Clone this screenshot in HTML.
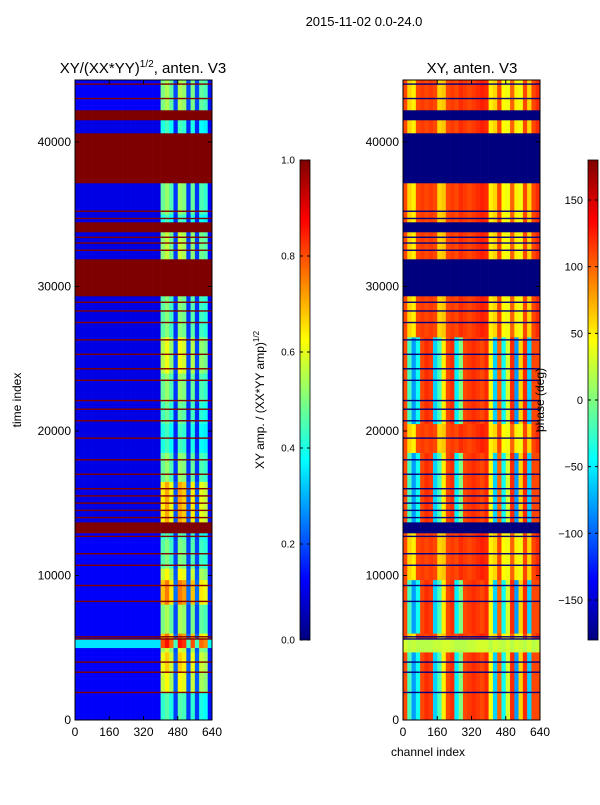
<!DOCTYPE html>
<html><head><meta charset="utf-8">
<style>
html,body{margin:0;padding:0;background:#fff;}
body{width:600px;height:800px;overflow:hidden;font-family:"Liberation Sans","DejaVu Sans",sans-serif;}
svg text{font-family:"Liberation Sans","DejaVu Sans",sans-serif;fill:#000;}
</style></head>
<body>
<svg id="fig" width="600" height="800" viewBox="0 0 600 800" xmlns="http://www.w3.org/2000/svg">
  <defs>
    <linearGradient id="jet" x1="0" y1="1" x2="0" y2="0">
      <stop offset="0" stop-color="#00007f"/><stop offset="0.125" stop-color="#0000ff"/>
      <stop offset="0.375" stop-color="#00ffff"/><stop offset="0.5" stop-color="#7fff7f"/>
      <stop offset="0.625" stop-color="#ffff00"/><stop offset="0.875" stop-color="#ff0000"/>
      <stop offset="1" stop-color="#7f0000"/>
    </linearGradient>
  </defs>
  <text x="364" y="26" font-size="13" text-anchor="middle">2015-11-02 0.0-24.0</text>
  <text x="143" y="73" font-size="15" text-anchor="middle">XY/(XX*YY)<tspan font-size="10" dy="-6">1/2</tspan><tspan dy="6">, anten. V3</tspan></text>
  <text x="472" y="73" font-size="15" text-anchor="middle">XY, anten. V3</text>
  <g id="left-heat"></g>
  <g id="right-heat"></g>
  <g id="axes"></g>
  <text x="21" y="400" font-size="12" text-anchor="middle" transform="rotate(-90 21 400)">time index</text>
  <text x="428" y="756" font-size="12" text-anchor="middle">channel index</text>
  <rect x="300" y="160" width="10" height="480" fill="url(#jet)" stroke="#000" stroke-width="0.8"/>
  <rect x="588" y="160" width="10" height="480" fill="url(#jet)" stroke="#000" stroke-width="0.8"/>
  <text x="264" y="400" font-size="12" text-anchor="middle" transform="rotate(-90 264 400)">XY amp. / (XX*YY amp)<tspan font-size="8" dy="-5">1/2</tspan></text>
  <text x="544" y="400" font-size="12" text-anchor="middle" transform="rotate(-90 544 400)">phase (deg)</text>
  <g id="cbticks"></g>
</svg>
<script>
// ---- data ----
const tMax = 44290;
const bandStart = [0,1900,3300,4700,5000,5600,6000,8000,9700,10500,12500,12940,13700,16500,18500,20500,22000,24000,26500,29343,31903,33772,34464,35000,37163,40623,41522,42215];
const bandEnd   = [1900,3300,4700,5000,5600,6000,8000,9700,10500,12500,12940,13700,16500,18500,20500,22000,24000,26500,29343,31903,33772,34464,35000,37163,40623,41522,42215,44290];
const bandFlag  = [0,0,0,0,0,0,0,0,0,0,0,1,0,0,0,0,0,0,0,1,0,1,0,0,1,0,1,0];
const bandLow   = [0.12,0.12,0.12,0.12,0.35,0.12,0.12,0.12,0.12,0.12,0.12,1,0.1,0.1,0.1,0.1,0.1,0.1,0.1,1,0.1,1,0.1,0.1,1,0.1,1,0.12];
const bandHot   = [0.4,0.6,0.65,0.55,0.6,0.75,0.5,0.75,0.6,0.45,0.4,1,0.72,0.5,0.4,0.45,0.5,0.6,0.48,1,0.55,1,0.4,0.5,1,0.4,1,0.5];
const bandPhaseType = [1,1,1,2,2,0,1,1,0,0,0,3,1,1,0,1,1,1,0,3,0,3,0,0,3,0,3,0];
// channel profile (32 bins of 20 channels) for amplitude hot region
const chanProfile = [0,0,0,0,0,0,0,0,0,0,0,0,0,0,0,0,0,0,0,0,0.75,0.85,0.7,0.15,0.85,0.8,0.15,0.75,0.15,0.7,0.65,0.05];
// phase profiles (deg) per channel bin
const phaseTop   = [110,60,50,110,115,110,115,110,60,65,110,115,110,120,115,110,115,120,125,120,50,60,110,45,40,100,50,40,110,60,110,120];
const phaseLow   = [110,-20,-80,-40,110,120,115,-60,-20,50,110,120,-50,0,110,115,120,115,110,120,40,-60,100,-40,30,120,-80,60,120,-60,110,110];
const phaseGreen = [30,20,25,20,20,20,20,25,25,30,30,25,20,20,20,25,25,30,30,30,20,30,25,20,30,20,30,25,20,30,20,25];
const phaseProfiles = [phaseTop, phaseLow, phaseGreen];
const thinFlags = [1900,3300,4000,5600,5750,8200,9300,10700,11500,12700,14000,14500,15000,15500,16000,17000,18000,19500,20700,21500,22100,23500,24300,25300,26300,27500,28300,28900,32500,33000,33400,34700,35200,43000,44000];
const yTicks = [0,10000,20000,30000,40000];
const xTicks = [0,160,320,480,640];
const ampTicks = ["0.0","0.2","0.4","0.6","0.8","1.0"];
const phaseTicks = [-150,-100,-50,0,50,100,150];

// ---- scales ----
const L = {x0:75,x1:212}, R = {x0:403,x1:540}, Y0=720, Y1=80;
const yS = t => Y0 - (t/tMax)*(Y0-Y1);
const xS = (p,c) => p.x0 + (c/640)*(p.x1-p.x0);
const NS = "http://www.w3.org/2000/svg";
function jet(v){
  v=Math.max(0,Math.min(1,v));
  const s=[[0,0,0,127],[0.125,0,0,255],[0.375,0,255,255],[0.5,127,255,127],[0.625,255,255,0],[0.875,255,0,0],[1,127,0,0]];
  for(let i=1;i<s.length;i++){ if(v<=s[i][0]){const a=s[i-1],b=s[i],f=(v-a[0])/(b[0]-a[0]);
    return `rgb(${Math.round(a[1]+f*(b[1]-a[1]))},${Math.round(a[2]+f*(b[2]-a[2]))},${Math.round(a[3]+f*(b[3]-a[3]))})`;}}
  return "rgb(127,0,0)";
}
function mk(tag,attrs,parent){const e=document.createElementNS(NS,tag);for(const k in attrs)e.setAttribute(k,attrs[k]);parent.appendChild(e);return e;}

const gl=document.getElementById('left-heat'), gr=document.getElementById('right-heat');
for(let b=0;b<bandStart.length;b++){
  const ya=yS(bandEnd[b]), yb=yS(bandStart[b]);
  for(let c=0;c<32;c++){
    const amp = bandFlag[b] ? 1 : Math.min(1, bandLow[b] + chanProfile[c]*bandHot[b]);
    const r1=mk('rect',{x:xS(L,c*20),y:ya,width:xS(L,(c+1)*20)-xS(L,c*20)+0.3,height:yb-ya+0.3,fill:jet(amp)},gl);
    
    
    const ph = bandFlag[b] ? -180 : phaseProfiles[bandPhaseType[b]][c];
    const r2=mk('rect',{x:xS(R,c*20),y:ya,width:xS(R,(c+1)*20)-xS(R,c*20)+0.3,height:yb-ya+0.3,fill:jet((ph+180)/360)},gr);
    
    
  }
}
thinFlags.forEach(t=>{
  const a=mk('rect',{x:L.x0,y:yS(t)-0.8,width:L.x1-L.x0,height:1.4,fill:jet(1)},gl);
  
  
  const b=mk('rect',{x:R.x0,y:yS(t)-0.8,width:R.x1-R.x0,height:1.4,fill:jet(0)},gr);
  
  
});

const ax=document.getElementById('axes');
[L,R].forEach((p,i)=>{
  const fr=mk('rect',{x:p.x0,y:Y1,width:p.x1-p.x0,height:Y0-Y1,fill:'none',stroke:'#000','stroke-width':1},ax);
  
  
  yTicks.forEach(t=>{
    const y=yS(t);
    mk('line',{x1:p.x0,x2:p.x0+4,y1:y,y2:y,stroke:'#000'},ax);
    mk('line',{x1:p.x1,x2:p.x1-4,y1:y,y2:y,stroke:'#000'},ax);
    const tx=mk('text',{x:p.x0-4,y:y+4,'font-size':12,'text-anchor':'end'},ax);
    tx.textContent=t;
    
    
  });
  xTicks.forEach(c=>{
    const x=xS(p,c);
    mk('line',{x1:x,x2:x,y1:Y0,y2:Y0-4,stroke:'#000'},ax);
    mk('line',{x1:x,x2:x,y1:Y1,y2:Y1+4,stroke:'#000'},ax);
    const tx=mk('text',{x:x,y:Y0+16,'font-size':12,'text-anchor':'middle'},ax);
    tx.textContent=c;
    
    
  });
});
const cb=document.getElementById('cbticks');
ampTicks.forEach((s,i)=>{
  const y=640-i*96;
  mk('line',{x1:300,x2:303,y1:y,y2:y,stroke:'#000'},cb);
  mk('line',{x1:307,x2:310,y1:y,y2:y,stroke:'#000'},cb);
  const tx=mk('text',{x:295,y:y+3.5,'font-size':10,'text-anchor':'end'},cb);
  tx.textContent=s;
  
  
});
phaseTicks.forEach(v=>{
  const y=640-((v+180)/360)*480;
  mk('line',{x1:588,x2:591,y1:y,y2:y,stroke:'#000'},cb);
  mk('line',{x1:595,x2:598,y1:y,y2:y,stroke:'#000'},cb);
  const tx=mk('text',{x:583,y:y+4,'font-size':11,'text-anchor':'end'},cb);
  tx.textContent=v<0?'\u2212'+(-v):v;
  
  
});
</script>
</body></html>
